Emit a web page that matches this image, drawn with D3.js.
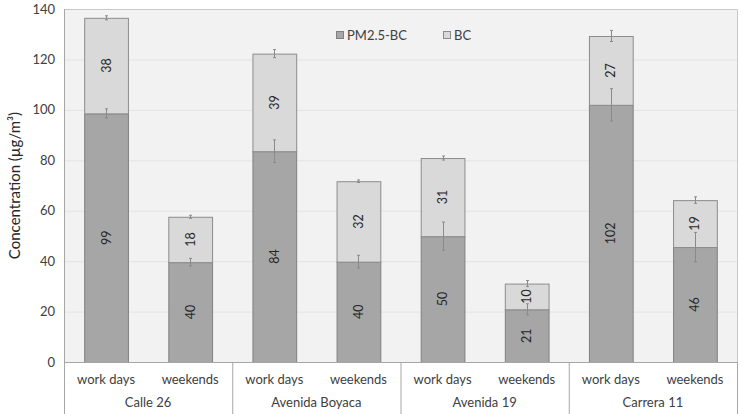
<!DOCTYPE html>
<html lang="en">
<head>
<meta charset="utf-8">
<title>Concentration chart</title>
<style>
  body { margin: 0; background: #fff; font-family: Lato, "Open Sans", sans-serif; }
  .tick-label { font-size: 13px; fill: #404040; text-anchor: end; }
  .cat-label { font-size: 13px; fill: #404040; text-anchor: middle; }
  .val-label { font-size: 12.5px; fill: #262626; text-anchor: middle; }
  .axis-title { font-size: 15px; fill: #262626; text-anchor: middle; }
  .legend text { font-size: 13px; fill: #404040; }
</style>
</head>
<body>
<script src="https://d3js.org/d3.v7.min.js" charset="utf-8"></script>
<script>
var groups = ['Calle 26', 'Avenida Boyaca', 'Avenida 19', 'Carrera 11'];
var days = ['work days', 'weekends'];
var seriesNames = ['PM2.5-BC', 'BC'];

// one entry per bar: group-major, work days then weekends
var pmValues = [98.6, 39.6, 83.6, 39.8, 49.9, 20.9, 102.0, 45.6];
var bcValues = [37.9, 18.0, 38.7, 31.9, 31.0, 10.2, 27.3, 18.6];
var pmErrors = [1.8, 1.5, 4.5, 2.5, 5.6, 2.2, 6.4, 5.8];
var bcErrors = [0.8, 0.6, 1.6, 0.5, 0.8, 1.2, 2.2, 1.3];
var yTicks = [0, 20, 40, 60, 80, 100, 120, 140];

var W = 743, H = 414;
var plotLeft = 64, plotRight = 737, plotTop = 9, plotBottom = 362;

var svg = d3.select('body').append('svg')
    .attr('width', W)
    .attr('height', H);

var rows = [];
groups.forEach(function(g, gi) {
    days.forEach(function(d, di) {
        var i = gi * days.length + di;
        rows.push({group: g, day: d, pm: pmValues[i], bc: bcValues[i],
                   pmErr: pmErrors[i], bcErr: bcErrors[i]});
    });
});

var y = d3.scaleLinear().domain([0, 140]).range([plotBottom, plotTop]);
var x0 = d3.scaleBand().domain(groups).range([plotLeft, plotRight]);
var x1 = d3.scaleBand().domain(days).range([0, x0.bandwidth()])
    .paddingInner(0.48).paddingOuter(0.24);

function barX(d) { return x0(d.group) + x1(d.day); }
function barMid(d) { return barX(d) + x1.bandwidth() / 2; }

// plot area
svg.append('rect')
    .attr('x', plotLeft).attr('y', plotTop)
    .attr('width', plotRight - plotLeft).attr('height', plotBottom - plotTop)
    .attr('fill', '#f2f2f2');

svg.append('g').selectAll('line')
    .data(yTicks.slice(1, -1))
    .enter().append('line')
    .attr('x1', plotLeft).attr('x2', plotRight)
    .attr('y1', function(d) { return y(d) + 0.5; })
    .attr('y2', function(d) { return y(d) + 0.5; })
    .attr('stroke', '#e3e3e3');

// frame top / right
svg.append('path')
    .attr('d', 'M' + plotLeft + ',' + (plotTop + 0.5) + 'H' + (plotRight + 0.5) + 'V' + plotBottom)
    .attr('fill', 'none').attr('stroke', '#c8c8c8');

var stack = d3.stack().keys(['pm', 'bc']);
var stacked = stack(rows);
var fills = ['#a6a6a6', '#d9d9d9'];
var strokes = ['#808080', '#8c8c8c'];

stacked.forEach(function(layer, li) {
    svg.append('g').selectAll('rect')
        .data(layer)
        .enter().append('rect')
        .attr('x', function(d) { return barX(d.data) + 0.5; })
        .attr('y', function(d) { return y(d[1]) + 0.5; })
        .attr('width', x1.bandwidth())
        .attr('height', function(d) { return y(d[0]) - y(d[1]); })
        .attr('fill', fills[li])
        .attr('stroke', strokes[li])
        .attr('stroke-width', 1);
});

// error bars
var errGroup = svg.append('g').attr('stroke', '#8a8a8a').attr('stroke-width', 1);
stacked.forEach(function(layer, li) {
    layer.forEach(function(d) {
        var e = li === 0 ? d.data.pmErr : d.data.bcErr;
        var cx = Math.round(barMid(d.data)) + 0.5;
        errGroup.append('line')
            .attr('x1', cx).attr('x2', cx)
            .attr('y1', y(d[1] - e)).attr('y2', y(d[1] + e));
        [d[1] - e, d[1] + e].forEach(function(v) {
            errGroup.append('line')
                .attr('x1', cx - 1.5).attr('x2', cx + 1.5)
                .attr('y1', y(v)).attr('y2', y(v));
        });
    });
});

// value labels
stacked.forEach(function(layer) {
    svg.append('g').selectAll('text')
        .data(layer)
        .enter().append('text')
        .attr('class', 'val-label')
        .attr('transform', function(d) {
            return 'translate(' + (barMid(d.data) + 4.5) + ',' + y((d[0] + d[1]) / 2) + ') rotate(-90)';
        })
        .text(function(d) { return Math.round(d[1] - d[0]); });
});

// y axis
svg.append('line')
    .attr('x1', plotLeft + 0.5).attr('x2', plotLeft + 0.5)
    .attr('y1', plotTop).attr('y2', H)
    .attr('stroke', '#a6a6a6');

svg.append('g').selectAll('text')
    .data(yTicks)
    .enter().append('text')
    .attr('class', 'tick-label')
    .attr('x', plotLeft - 9)
    .attr('y', function(d) { return y(d) + 4.5; })
    .text(function(d) { return d; });

svg.append('text')
    .attr('class', 'axis-title')
    .attr('transform', 'translate(20,' + ((plotTop + plotBottom) / 2) + ') rotate(-90)')
    .text('Concentration (µg/m³)');

// category axis
svg.append('line')
    .attr('x1', plotLeft).attr('x2', plotRight + 1)
    .attr('y1', plotBottom + 0.5).attr('y2', plotBottom + 0.5)
    .attr('stroke', '#a6a6a6');

svg.append('g').selectAll('line')
    .data(groups.slice(1).concat([null]))
    .enter().append('line')
    .attr('x1', function(g) { return (g ? x0(g) : plotRight) + 0.5; })
    .attr('x2', function(g) { return (g ? x0(g) : plotRight) + 0.5; })
    .attr('y1', plotBottom).attr('y2', H)
    .attr('stroke', '#a6a6a6');

svg.append('g').selectAll('text')
    .data(rows)
    .enter().append('text')
    .attr('class', 'cat-label')
    .attr('x', barMid)
    .attr('y', plotBottom + 22)
    .text(function(d) { return d.day; });

svg.append('g').selectAll('text')
    .data(groups)
    .enter().append('text')
    .attr('class', 'cat-label')
    .attr('x', function(g) { return x0(g) + x0.bandwidth() / 2; })
    .attr('y', plotBottom + 45)
    .text(function(g) { return g; });

// legend
var legend = svg.append('g').attr('class', 'legend');
var legendX = [336, 443];
seriesNames.forEach(function(name, i) {
    legend.append('rect')
        .attr('x', legendX[i] + 0.5).attr('y', 31.5)
        .attr('width', 7).attr('height', 7)
        .attr('fill', fills[i]).attr('stroke', strokes[i]);
    legend.append('text')
        .attr('x', legendX[i] + 11)
        .attr('y', 40)
        .text(name);
});
</script>
</body>
</html>
